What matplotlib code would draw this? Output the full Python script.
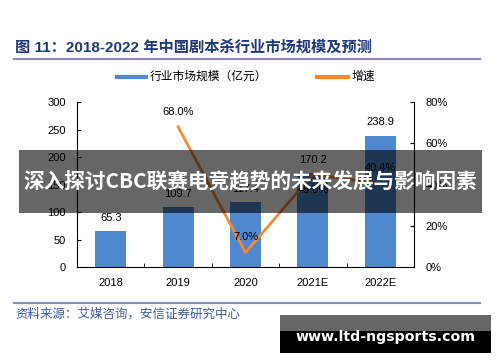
import matplotlib.pyplot as plt
from matplotlib.patches import Rectangle
from matplotlib.lines import Line2D

plt.rcParams['font.family'] = ['Liberation Sans', 'Noto Sans CJK SC']

years = ['2018', '2019', '2020', '2021E', '2022E']
market = [65.3, 109.7, 117.4, 170.2, 238.9]
growth_years = [1, 2, 3, 4]
growth = [0.680, 0.070, 0.450, 0.404]
growth_labels = ['68.0%', '7.0%', '45.0%', '40.4%']
label_offsets = [11, 11, -11, 11]

bar_color = '#4f88cf'
line_color = '#f58a33'

fig = plt.figure(figsize=(5, 3.62), dpi=100)
ax = fig.add_axes([0.154, 0.2624, 0.674, 0.4556])
x = list(range(len(years)))
ax.bar(x, market, width=0.46, color=bar_color, zorder=2)
for xi, v in zip(x, market):
    ax.annotate(f'{v:.1f}', (xi, v), xytext=(0, 9.5), textcoords='offset points',
                ha='center', va='center', fontsize=8)
ax.set_xlim(-0.5, 4.5)
ax.set_ylim(0, 300)
ax.set_yticks([0, 50, 100, 150, 200, 250, 300])
ax.set_xticks(x)
ax.set_xticklabels(years)
ax.set_xticks([0.5, 1.5, 2.5, 3.5], minor=True)
ax.tick_params(axis='x', which='major', length=0, labelsize=8, pad=8)
ax.tick_params(axis='x', which='minor', length=3, direction='in')
ax.tick_params(axis='y', direction='in', length=3, labelsize=8, pad=8)
ax.spines['top'].set_visible(False)
ax.spines['right'].set_visible(False)

ax2 = ax.twinx()
ax2.plot(growth_years, growth, color=line_color, lw=2, zorder=3)
for xi, v, lab, off in zip(growth_years, growth, growth_labels, label_offsets):
    ax2.annotate(lab, (xi, v), xytext=(0, off), textcoords='offset points',
                 ha='center', va='center', fontsize=8)
ax2.set_ylim(0, 0.8)
ax2.set_yticks([0, 0.2, 0.4, 0.6, 0.8])
ax2.set_yticklabels(['0%', '20%', '40%', '60%', '80%'])
ax2.tick_params(axis='y', direction='in', length=3, labelsize=8, pad=8.5)
ax2.spines['top'].set_visible(False)
ax2.spines['left'].set_visible(False)
ax2.spines['bottom'].set_visible(False)

# title and rules
fig.text(0.03, 1 - 47 / 362, '图 11：2018-2022 年中国剧本杀行业市场规模及预测',
         fontsize=11, fontweight='bold', color='#1f3a7a', va='center')
fig.add_artist(Line2D([0.028, 0.96], [1 - 59 / 362] * 2, color='#8b8bbf', lw=1.5))
fig.add_artist(Line2D([0.028, 0.96], [1 - 303 / 362] * 2, color='#8b8bbf', lw=1.5))
fig.text(0.03, 1 - 314 / 362, '资料来源：艾媒咨询，安信证券研究中心',
         fontsize=9, style='italic', color='#3e5c9a', va='center')

# legend
ly = 1 - 77 / 362
fig.add_artist(Line2D([117 / 500, 146 / 500], [ly, ly], color=bar_color, lw=3))
fig.text(150 / 500, ly, '行业市场规模（亿元）', fontsize=8.5, va='center')
fig.add_artist(Line2D([317 / 500, 348 / 500], [ly, ly], color=line_color, lw=3))
fig.text(352 / 500, ly, '增速', fontsize=8.5, va='center')

# banner overlay
fig.add_artist(Rectangle((19 / 500, 1 - 213 / 362), 463 / 500, 63 / 362,
                         transform=fig.transFigure, color='black', alpha=0.6, lw=0, zorder=10))
fig.text(0.5, 1 - 182 / 362, '深入探讨CBC联赛电竞趋势的未来发展与影响因素',
         fontsize=14.9, fontweight='bold', color='white', ha='center', va='center',
         family=['Noto Sans CJK SC'], zorder=11)

# site box
fig.add_artist(Rectangle((280 / 500, 1 - 331 / 362), 211 / 500, 16 / 362,
                         transform=fig.transFigure, color='#666666', lw=0, zorder=10))
fig.add_artist(Rectangle((280 / 500, 1 - 353 / 362), 211 / 500, 22 / 362,
                         transform=fig.transFigure, color='black', lw=0, zorder=10))
fig.text(385 / 500, 1 - 337 / 362, 'www.ltd-ngsports.com', fontsize=10.2,
         fontweight='bold', color='white', ha='center', va='center',
         family=['DejaVu Sans'], zorder=11)

fig.savefig('out.png', dpi=100)
